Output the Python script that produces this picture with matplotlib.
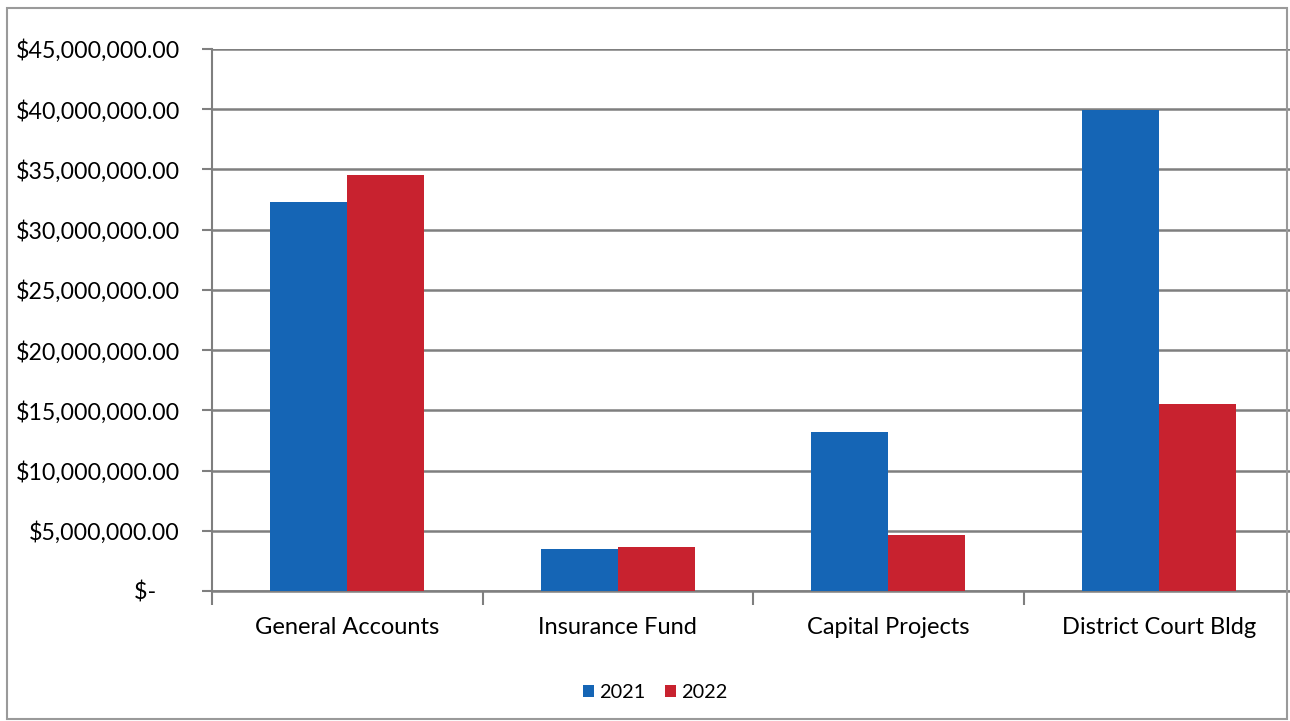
#!/usr/bin/env python3

import matplotlib
matplotlib.use('Agg')
import matplotlib.pyplot as plt
from matplotlib.patches import Rectangle
from matplotlib.ticker import FuncFormatter, MultipleLocator
import numpy as np

categories = ['General Accounts', 'Insurance Fund', 'Capital Projects', 'District Court Bldg']
values_2021 = [32_300_000, 3_460_000, 13_230_000, 39_900_000]
values_2022 = [34_550_000, 3_680_000, 4_650_000, 15_530_000]
series_names = ['2021', '2022']

BLUE = '#1565b5'
RED = '#c8222f'
GRID = '#7f7f7f'

plt.rcParams['font.family'] = ['Lato', 'DejaVu Sans']


def money(v, pos=None):
    if v == 0:
        return '$-    '
    return f'${v:,.2f}'


fig = plt.figure(figsize=(12.9, 7.21), dpi=100)
# plot area: x 212..1294 px (runs past the cropped edge), y 49..591 px
ax = fig.add_axes([212 / 1290, 1 - 591 / 721, (1294 - 212) / 1290, (591 - 49) / 721])

x = np.arange(len(categories))
w = 0.285
ax.bar(x - w / 2, values_2021, w, color=BLUE, label=series_names[0], zorder=3)
ax.bar(x + w / 2, values_2022, w, color=RED, label=series_names[1], zorder=3)

ax.set_xlim(-0.5, len(categories) - 0.5)
ax.set_ylim(0, 45_000_000)
ax.yaxis.set_major_locator(MultipleLocator(5_000_000))
ax.yaxis.set_major_formatter(FuncFormatter(money))
ax.grid(axis='y', color=GRID, linewidth=1.8, zorder=0)

# category labels centred, ticks on the boundaries
ax.set_xticks(x)
ax.set_xticklabels(categories)
ax.tick_params(axis='x', length=0, pad=19, labelsize=17)
ax.set_xticks(np.arange(len(categories)) - 0.5, minor=True)
ax.tick_params(axis='x', which='minor', length=10, width=1.5, color=GRID)
ax.tick_params(axis='y', length=7, width=1.5, color=GRID, pad=16, labelsize=16.7)

for s in ['top', 'right']:
    ax.spines[s].set_visible(False)
ax.spines['left'].set_color(GRID)
ax.spines['left'].set_linewidth(1.5)
ax.spines['bottom'].set_color(GRID)
ax.spines['bottom'].set_linewidth(1.8)

fig.legend(loc='center', bbox_to_anchor=(655 / 1290, 1 - 693 / 721), ncol=2, frameon=False,
           fontsize=14.3, handlelength=0.55, handleheight=0.55, handletextpad=0.25,
           columnspacing=1.0)

# outer frame of the chart area
fig.patches.append(Rectangle((7 / 1290, 2 / 721), 1280 / 1290, 711 / 721,
                             transform=fig.transFigure, fill=False,
                             edgecolor='#9a9a9a', linewidth=1.5))

fig.savefig('out.png', dpi=100)
